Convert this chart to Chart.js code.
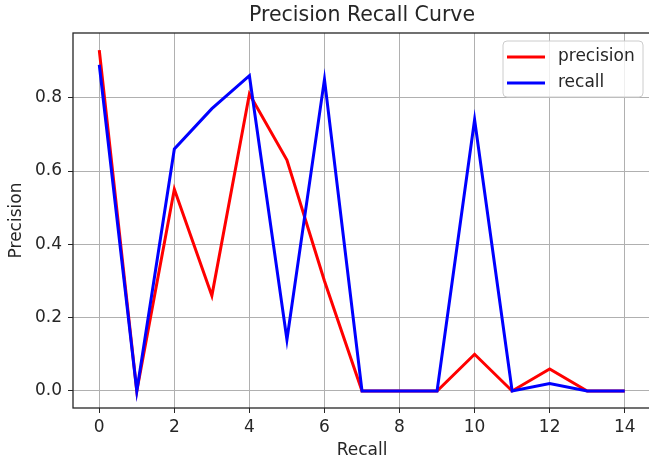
<!DOCTYPE html>
<html>
<head>
<meta charset="utf-8">
<script src="https://cdn.jsdelivr.net/npm/chart.js@4.4.0/dist/chart.umd.min.js"></script>
<style>
html, body { margin: 0; padding: 0; background: #fff; overflow: hidden; }
#wrap { width: 649px; height: 466px; overflow: hidden; }
canvas { display: block; }
</style>
</head>
<body>
<div id="wrap"><canvas id="pr_chart" width="662" height="466"></canvas></div>
<script>

// data
var x_values = [0, 1, 2, 3, 4, 5, 6, 7, 8, 9, 10, 11, 12, 13, 14];
var precision_values = [0.93, 0.0, 0.55, 0.26, 0.81, 0.63, 0.30, 0.0, 0.0, 0.0, 0.10, 0.0, 0.06, 0.0, 0.0];
var recall_values = [0.89, 0.0, 0.66, 0.77, 0.86, 0.14, 0.85, 0.0, 0.0, 0.0, 0.74, 0.0, 0.02, 0.0, 0.0];
var x_ticks = [0, 2, 4, 6, 8, 10, 12, 14];
var y_ticks = [0.0, 0.2, 0.4, 0.6, 0.8];

var font_family = "'DejaVu Sans', sans-serif";

function to_points(ys) {
    var pts = [];
    for (var i = 0; i < x_values.length; i++) {
        pts.push({x: x_values[i], y: ys[i]});
    }
    return pts;
}

// matplotlib style box around the axes + legend in the upper right
var frame_legend = {
    id: 'frame_legend',
    afterDraw: function (chart) {
        var ctx = chart.ctx;
        var a = chart.chartArea;
        ctx.save();
        ctx.strokeStyle = '#262626';
        ctx.lineWidth = 1.3;
        ctx.strokeRect(a.left, a.top, a.right - a.left, a.bottom - a.top);

        // legend box
        var bx = 503, by = 41, bw = 140, bh = 56, r = 4;
        ctx.beginPath();
        ctx.moveTo(bx + r, by);
        ctx.arcTo(bx + bw, by, bx + bw, by + bh, r);
        ctx.arcTo(bx + bw, by + bh, bx, by + bh, r);
        ctx.arcTo(bx, by + bh, bx, by, r);
        ctx.arcTo(bx, by, bx + bw, by, r);
        ctx.closePath();
        ctx.fillStyle = 'rgba(255,255,255,0.8)';
        ctx.fill();
        ctx.strokeStyle = '#cccccc';
        ctx.lineWidth = 1;
        ctx.stroke();

        var ds = chart.data.datasets;
        ctx.font = '17px ' + font_family;
        ctx.textBaseline = 'middle';
        ctx.textAlign = 'left';
        for (var i = 0; i < ds.length; i++) {
            var ly = 57 + i * 26;
            ctx.beginPath();
            ctx.moveTo(507, ly);
            ctx.lineTo(545, ly);
            ctx.strokeStyle = ds[i].borderColor;
            ctx.lineWidth = 3;
            ctx.stroke();
            ctx.fillStyle = '#262626';
            ctx.fillText(ds[i].label, 558, ly);
        }
        ctx.restore();
    }
};

var pr_config = {
    type: 'line',
    data: {
        datasets: [{
            label: 'precision',
            data: to_points(precision_values),
            borderColor: '#ff0000',
            borderWidth: 3,
            pointRadius: 0,
            tension: 0,
            order: 1
        }, {
            label: 'recall',
            data: to_points(recall_values),
            borderColor: '#0000ff',
            borderWidth: 3,
            pointRadius: 0,
            tension: 0,
            order: 0
        }]
    },
    options: {
        responsive: false,
        animation: false,
        devicePixelRatio: 1,
        layout: {padding: {left: 0, right: 11, top: 0, bottom: 0}},
        plugins: {
            legend: {display: false},
            tooltip: {enabled: false},
            title: {
                display: true,
                fullSize: false,
                text: 'Precision Recall Curve',
                color: '#262626',
                font: {family: font_family, size: 20.5, weight: 'normal'},
                padding: {top: 3.2, bottom: 5.2}
            }
        },
        scales: {
            x: {
                type: 'linear',
                min: -0.7,
                max: 14.7,
                afterBuildTicks: function (scale) {
                    scale.ticks = x_ticks.map(function (v) { return {value: v}; });
                },
                afterFit: function (scale) { scale.height = 58; },
                ticks: {
                    color: '#262626',
                    padding: 4.3,
                    maxRotation: 0,
                    font: {family: font_family, size: 17},
                    callback: function (v) { return String(v); }
                },
                grid: {color: '#b0b0b0', lineWidth: 1, tickLength: 5, tickColor: '#262626'},
                border: {display: false},
                title: {
                    display: true,
                    text: 'Recall',
                    color: '#262626',
                    font: {family: font_family, size: 17},
                    padding: {top: 0, bottom: 4.8}
                }
            },
            y: {
                type: 'linear',
                min: -0.0465,
                max: 0.9765,
                afterBuildTicks: function (scale) {
                    scale.ticks = y_ticks.map(function (v) { return {value: v}; });
                },
                afterFit: function (scale) { scale.width = 73; },
                ticks: {
                    color: '#262626',
                    padding: 6,
                    font: {family: font_family, size: 17},
                    callback: function (v) { return Number(v).toFixed(1); }
                },
                grid: {color: '#b0b0b0', lineWidth: 1, tickLength: 5, tickColor: '#262626'},
                border: {display: false},
                title: {
                    display: true,
                    text: 'Precision',
                    color: '#262626',
                    font: {family: font_family, size: 17},
                    padding: {top: 6.8, bottom: 0}
                }
            }
        }
    },
    plugins: [frame_legend]
};

var pr_chart = new Chart(document.getElementById('pr_chart').getContext('2d'), pr_config);
</script>
</body>
</html>
